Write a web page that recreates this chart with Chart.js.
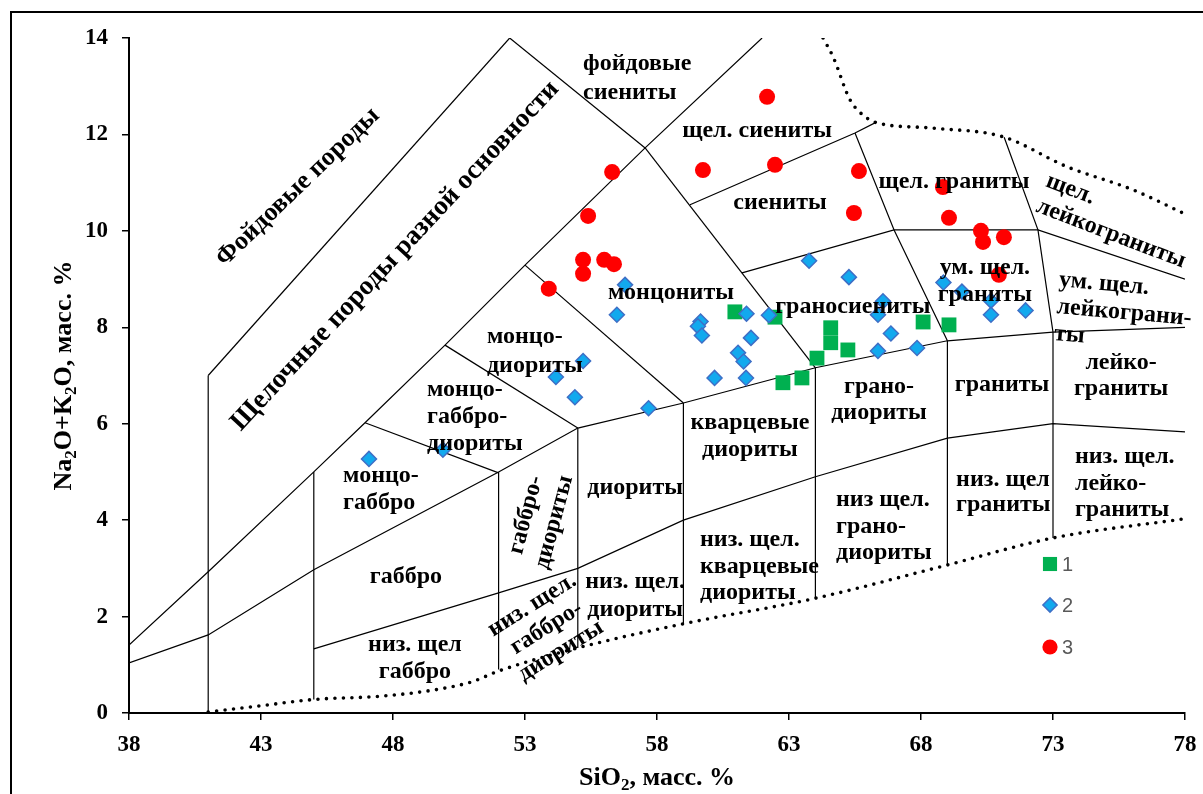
<!DOCTYPE html>
<html lang="ru">
<head>
<meta charset="utf-8">
<script src="https://cdn.jsdelivr.net/npm/chart.js"></script>
<style>
    html, body { margin: 0; padding: 0; background: #fff; }
    #wrap { width: 1203px; height: 794px; position: relative; }
</style>
</head>
<body>
<div id="wrap"><canvas id="tas" width="1203" height="794"></canvas></div>
<script>
// оси
const xTicks = [38, 43, 48, 53, 58, 63, 68, 73, 78];
const yTicks = [0, 2, 4, 6, 8, 10, 12, 14];

// точки (SiO2, Na2O+K2O)
const series1 = [ // зелёные квадраты
    [60.95, 8.32], [62.47, 8.21], [64.58, 7.99], [64.58, 7.68], [65.23, 7.53],
    [64.06, 7.36], [63.49, 6.95], [62.77, 6.85], [68.08, 8.11], [69.06, 8.05]
];
const series2 = [ // синие ромбы
    [47.09, 5.27], [49.89, 5.46], [54.17, 6.97], [54.89, 6.55], [55.2, 7.3],
    [56.48, 8.26], [56.79, 8.88], [57.68, 6.32], [59.65, 8.12], [59.55, 8.02],
    [59.7, 7.83], [60.18, 6.95], [61.07, 7.47], [61.28, 7.29], [61.37, 6.95],
    [61.39, 8.28], [61.56, 7.78], [62.24, 8.25], [63.76, 9.38], [65.27, 9.04],
    [66.37, 8.26], [66.56, 8.54], [66.86, 7.87], [66.37, 7.51], [67.85, 7.57],
    [68.85, 8.93], [69.55, 8.74], [70.65, 8.55], [70.65, 8.26], [71.96, 8.35]
];
const series3 = [ // красные круги
    [62.17, 12.78], [59.74, 11.26], [62.47, 11.37], [56.3, 11.22], [55.39, 10.31],
    [55.2, 9.4], [56.0, 9.4], [56.37, 9.31], [55.2, 9.11], [53.9, 8.8],
    [65.65, 11.24], [65.46, 10.37], [68.83, 10.91], [69.06, 10.27], [70.27, 10.0],
    [70.35, 9.77], [71.14, 9.87], [70.95, 9.09]
];

// границы полей
const borders = [
    [[38, 1.41], [41, 2.93], [45, 5.0], [46.94, 6.02], [49.97, 7.63], [53.0, 9.29], [57.55, 11.72], [61.98, 14]],
    [[41, 7.0], [52.42, 14]],
    [[52.42, 14], [57.55, 11.72]],
    [[38, 1.04], [41, 1.62], [45, 2.97], [52, 5.0], [55, 5.91], [59, 6.43], [64, 7.16], [69, 7.72], [73, 7.9], [78, 8.0]],
    [[45, 1.33], [52, 2.49], [55, 3.0], [59, 4.0], [64, 4.9], [69, 5.7], [73, 6.0], [78, 5.83]],
    [[46.94, 6.02], [52, 4.98]],
    [[49.97, 7.63], [55, 5.91]],
    [[53.0, 9.29], [59, 6.43]],
    [[57.55, 11.72], [64, 7.16]],
    [[59.25, 10.54], [65.5, 12.03], [66.33, 12.26]],
    [[61.22, 9.13], [66.98, 10.02], [72.43, 10.02], [78, 9.0]],
    [[65.5, 12.03], [66.98, 10.02], [69, 7.72]],
    [[71.15, 11.94], [72.43, 10.02], [73, 7.9]],
    [[41, 0.0], [41, 7.0]],
    [[45, 0.28], [45, 5.0]],
    [[52, 0.9], [52, 5.0]],
    [[55, 1.35], [55, 5.91]],
    [[59, 1.85], [59, 6.43]],
    [[64, 2.38], [64, 7.16]],
    [[69, 3.07], [69, 7.72]],
    [[73, 3.63], [73, 7.9]]
];
const dottedLow = [[41, 0.02], [43, 0.15], [45, 0.28], [47.6, 0.35], [49.8, 0.5], [51, 0.65], [52, 0.87],
    [55, 1.35], [59, 1.85], [64, 2.38], [69, 3.07], [73, 3.63], [78, 4.03]];
const dottedTop = [[64.29, 14.0], [64.67, 13.61], [65.31, 12.72], [65.95, 12.34], [66.33, 12.24],
    [68.45, 12.13], [71.11, 11.95], [73.53, 11.33], [76.03, 10.85], [78, 10.35]];

// подписи полей: [x, y], строки, поворот, выравнивание, межстрочный
const labels = [
    { at: [44.40, 10.91], text: ['Фойдовые породы'], rot: -44, size: 26 },
    { at: [48.08, 9.48], text: ['Щелочные породы разной основности'], rot: -47, size: 27 },
    { at: [55.20, 13.46], text: ['фойдовые', 'сиениты'], align: 'left', lh: 29 },
    { at: [61.79, 12.07], text: ['щел. сиениты'] },
    { at: [62.66, 10.58], text: ['сиениты'] },
    { at: [69.25, 11.01], text: ['щел. граниты'] },
    { at: [72.77, 11.05], text: ['щел.', 'лейкограниты'], align: 'left', rot: 21 },
    { at: [58.53, 8.71], text: ['монцониты'] },
    { at: [65.42, 8.42], text: ['граносиениты'] },
    { at: [70.42, 9.23], text: ['ум. щел.', 'граниты'] },
    { at: [73.23, 8.98], text: ['ум. щел.', 'лейкограни-', 'ты'], align: 'left', rot: 5 },
    { at: [51.56, 7.80], text: ['монцо-', 'диориты'], align: 'left', lh: 29 },
    { at: [49.29, 6.70], text: ['монцо-', 'габбро-', 'диориты'], align: 'left' },
    { at: [46.11, 4.92], text: ['монцо-', 'габбро'], align: 'left' },
    { at: [53.04, 4.11], text: ['габбро-', 'диориты'], rot: -75, lh: 29 },
    { at: [57.17, 4.67], text: ['диориты'] },
    { at: [61.52, 6.01], text: ['кварцевые', 'диориты'] },
    { at: [66.41, 6.76], text: ['грано-', 'диориты'], lh: 26 },
    { at: [71.07, 6.80], text: ['граниты'] },
    { at: [75.58, 7.26], text: ['лейко-', 'граниты'], lh: 26 },
    { at: [48.49, 2.82], text: ['габбро'] },
    { at: [48.83, 1.41], text: ['низ. щел', 'габбро'] },
    { at: [53.27, 2.24], text: ['низ. щел.', 'габбро-', 'диориты'], rot: -32 },
    { at: [57.17, 2.72], text: ['низ. щел.', 'диориты'], lh: 28 },
    { at: [59.63, 3.59], text: ['низ. щел.', 'кварцевые', 'диориты'], align: 'left', lh: 26.5 },
    { at: [64.78, 4.42], text: ['низ щел.', 'грано-', 'диориты'], align: 'left', lh: 26.5 },
    { at: [69.33, 4.83], text: ['низ. щел', 'граниты'], align: 'left', lh: 25 },
    { at: [73.83, 5.31], text: ['низ. щел.', 'лейко-', 'граниты'], align: 'left', lh: 26.5 }
];

const toXY = arr => arr.map(p => ({ x: p[0], y: p[1] }));
const serif = '"Liberation Serif", "Times New Roman", serif';

const datasets = [
    { label: '1', data: toXY(series1), pointStyle: 'rect', pointRadius: 10.5, backgroundColor: '#00B050', borderColor: '#00B050', borderWidth: 0, order: 3 },
    { label: '2', data: toXY(series2), pointStyle: 'rectRot', pointRadius: 7.5, backgroundColor: '#12A9EE', borderColor: '#3E6FC6', borderWidth: 1.5, order: 1 },
    { label: '3', data: toXY(series3), pointStyle: 'circle', pointRadius: 8, backgroundColor: '#FF0000', borderColor: '#FF0000', borderWidth: 0, order: 2 }
];
borders.forEach(b => datasets.push({
    data: toXY(b), showLine: true, pointRadius: 0, borderColor: '#000', borderWidth: 1.2, order: 10
}));
[dottedLow, dottedTop].forEach(b => datasets.push({
    data: toXY(b), showLine: true, pointRadius: 0, borderColor: '#000', borderWidth: 3.6,
    borderDash: [0, 8.5], borderCapStyle: 'round', cubicInterpolationMode: 'monotone', order: 10
}));

function richText(ctx, parts, cx, cy, rot, size) {
    const big = 'bold ' + size + 'px ' + serif;
    const small = 'bold ' + Math.round(size * 0.65) + 'px ' + serif;
    ctx.save();
    ctx.translate(cx, cy);
    ctx.rotate(rot);
    ctx.textAlign = 'left';
    ctx.textBaseline = 'alphabetic';
    ctx.fillStyle = '#000';
    let w = 0;
    parts.forEach(p => { ctx.font = p[1] ? small : big; w += ctx.measureText(p[0]).width; });
    let xx = -w / 2;
    parts.forEach(p => {
        ctx.font = p[1] ? small : big;
        ctx.fillText(p[0], xx, size * 0.33 + (p[1] ? size * 0.2 : 0));
        xx += ctx.measureText(p[0]).width;
    });
    ctx.restore();
}

const decor = {
    id: 'decor',
    afterDatasetsDraw(chart) {
        const { ctx, scales: { x, y } } = chart;
        labels.forEach(l => {
            const size = l.size || 24;
            const lh = l.lh || 27;
            ctx.save();
            ctx.translate(x.getPixelForValue(l.at[0]), y.getPixelForValue(l.at[1]));
            ctx.rotate((l.rot || 0) * Math.PI / 180);
            ctx.font = 'bold ' + size + 'px ' + serif;
            ctx.textAlign = l.align || 'center';
            ctx.textBaseline = 'middle';
            ctx.fillStyle = '#000';
            l.text.forEach((t, i) => ctx.fillText(t, 0, i * lh));
            ctx.restore();
        });

        // легенда
        const lx = 1050, ly = [564, 605, 647];
        for (let i = 0; i < 3; i++) {
            const ds = chart.data.datasets[i];
            ctx.save();
            ctx.fillStyle = ds.backgroundColor;
            ctx.strokeStyle = ds.borderColor;
            ctx.lineWidth = ds.borderWidth;
            Chart.helpers.drawPoint(ctx, { pointStyle: ds.pointStyle, radius: ds.pointRadius * 0.95, borderWidth: ds.borderWidth, rotation: 0 }, lx, ly[i]);
            ctx.fillStyle = '#595959';
            ctx.font = '20px "Liberation Sans", Arial, sans-serif';
            ctx.textAlign = 'left';
            ctx.textBaseline = 'middle';
            ctx.fillText(ds.label, lx + 12, ly[i] + 1);
            ctx.restore();
        }
    },
    afterDraw(chart) {
        const ctx = chart.ctx;
        const a = chart.chartArea;
        richText(ctx, [['Na'], ['2', 1], ['O+K'], ['2', 1], ['O, масс. %']], 62, (a.top + a.bottom) / 2, -Math.PI / 2, 26);
        richText(ctx, [['SiO'], ['2', 1], [', масс. %']], (a.left + a.right) / 2, 776, 0, 26);
        ctx.save();
        ctx.strokeStyle = '#000';
        ctx.lineWidth = 2;
        ctx.strokeRect(11, 12, 1300, 900);
        ctx.restore();
    }
};

const tickFont = { family: serif, size: 23, weight: 'bold' };

new Chart(document.getElementById('tas'), {
    type: 'scatter',
    data: { datasets: datasets },
    options: {
        responsive: false,
        devicePixelRatio: 1,
        animation: false,
        layout: { padding: { left: 0, right: 18, top: 38, bottom: 0 } },
        plugins: { legend: { display: false }, tooltip: { enabled: false } },
        scales: {
            x: {
                type: 'linear', min: 38, max: 78,
                afterBuildTicks: s => { s.ticks = xTicks.map(v => ({ value: v })); },
                afterFit: s => { s.height = 81; s.paddingLeft = 0; s.paddingRight = 0; },
                grid: { drawOnChartArea: false, drawTicks: true, tickLength: 7, color: '#000', lineWidth: 1.5 },
                border: { color: '#000', width: 2 },
                ticks: { color: '#000', font: tickFont, padding: 11, maxRotation: 0, autoSkip: false }
            },
            y: {
                type: 'linear', min: 0, max: 14,
                afterBuildTicks: s => { s.ticks = yTicks.map(v => ({ value: v })); },
                afterFit: s => { s.width = 129; s.paddingTop = 0; s.paddingBottom = 0; },
                grid: { drawOnChartArea: false, drawTicks: true, tickLength: 7, color: '#000', lineWidth: 1.5 },
                border: { color: '#000', width: 2 },
                ticks: { color: '#000', font: tickFont, padding: 14, autoSkip: false }
            }
        }
    },
    plugins: [decor]
});
</script>
</body>
</html>
